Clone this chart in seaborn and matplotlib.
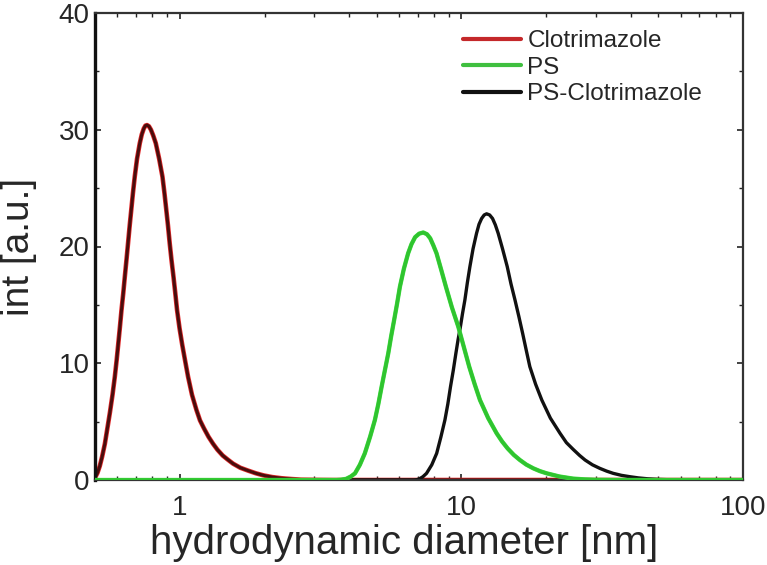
import numpy as np
import pandas as pd
import matplotlib
matplotlib.use("Agg")
import matplotlib.pyplot as plt
import matplotlib.patheffects as pe
from matplotlib.ticker import LogLocator, FixedLocator, NullFormatter
from matplotlib.lines import Line2D
import seaborn as sns

# ---- data ----
clotri_x = [0.500, 0.510, 0.520, 0.530, 0.542, 0.553, 0.565, 0.577, 0.588, 0.597, 0.605, 0.613,
            0.621, 0.630, 0.638, 0.647, 0.655, 0.664, 0.673, 0.682, 0.692, 0.705, 0.721, 0.733,
            0.745, 0.755, 0.765, 0.777, 0.790, 0.805, 0.822, 0.845, 0.868, 0.882, 0.895, 0.908,
            0.921, 0.935, 0.950, 0.964, 0.978, 0.998, 1.02, 1.045, 1.07, 1.105, 1.146, 1.18,
            1.22, 1.265, 1.313, 1.36, 1.42, 1.48, 1.546, 1.64, 1.75, 1.86, 1.98, 2.13,
            2.3, 2.5, 2.7, 3.1, 3.5, 100]
clotri_y = [0.2, 0.6, 1.2, 2.0, 3.1, 4.4, 5.8, 7.3, 8.85, 10.3, 11.7, 13.1,
            14.56, 16.0, 17.4, 18.9, 20.27, 21.8, 23.2, 24.6, 25.98, 27.5, 28.84, 29.6,
            30.1, 30.35, 30.4, 30.3, 30.0, 29.5, 28.84, 27.5, 25.98, 24.6, 23.2, 21.8,
            20.27, 18.8, 17.4, 16.0, 14.56, 13.0, 11.6, 10.2, 8.85, 7.3, 6.0, 5.1,
            4.4, 3.7, 3.1, 2.6, 2.1, 1.75, 1.4, 1.05, 0.8, 0.58, 0.4, 0.25,
            0.15, 0.08, 0.03, 0.01, 0.0, 0.0]

ps_x = [0.5, 3.6, 3.75, 3.9, 4.05, 4.19, 4.36, 4.54, 4.74, 4.93, 5.07, 5.21, 5.35, 5.50,
        5.63, 5.77, 5.91, 6.05, 6.25, 6.47, 6.65, 6.85, 7.08, 7.32, 7.55, 7.75, 7.95, 8.16,
        8.48, 8.81, 9.25, 9.75, 10.2, 10.66, 11.15, 11.64, 12.45, 13.34, 13.95, 14.6, 15.35,
        16.14, 17.0, 18.0, 19.0, 20.1, 22.3, 24.9, 27.5, 30, 35, 100]
ps_y = [0.0, 0.0, 0.03, 0.1, 0.3, 0.57, 1.3, 2.28, 3.7, 5.14, 6.5, 8.0, 9.4, 10.85,
        12.3, 13.7, 15.1, 16.56, 18.1, 19.42, 20.2, 20.8, 21.1, 21.2, 21.05, 20.7, 20.1, 19.42,
        18.0, 16.56, 14.8, 13.13, 11.4, 9.71, 8.2, 6.85, 5.3, 4.0, 3.3, 2.7, 2.15,
        1.71, 1.32, 1.0, 0.76, 0.57, 0.3, 0.12, 0.05, 0.02, 0.0, 0.0]

psc_x = [0.5, 6.8, 6.95, 7.1, 7.3, 7.52, 7.85, 8.17, 8.46, 8.74, 8.95, 9.15, 9.36, 9.56,
         9.73, 9.9, 10.1, 10.29, 10.5, 10.72, 11.0, 11.32, 11.55, 11.8, 12.05, 12.29, 12.6,
         12.9, 13.2, 13.51, 14.0, 14.55, 15.0, 15.5, 16.0, 16.5, 17.0, 17.5, 18.35, 19.3,
         20.7, 22.4, 23.6, 25, 26.3, 27.5, 29.2, 31, 32.8, 34.6, 37, 39.7, 42.5, 46, 50,
         55, 65, 100]
psc_y = [0.0, 0.0, 0.03, 0.1, 0.28, 0.57, 1.3, 2.28, 3.7, 5.14, 6.5, 8.0, 9.4, 10.85,
         12.0, 13.0, 14.3, 15.42, 16.9, 18.27, 19.8, 21.13, 21.9, 22.4, 22.7, 22.8, 22.7,
         22.4, 21.85, 21.13, 19.8, 18.27, 16.8, 15.42, 14.0, 12.56, 11.1, 9.71, 8.2, 6.85,
         5.3, 4.0, 3.2, 2.6, 2.1, 1.71, 1.3, 1.0, 0.76, 0.57, 0.4, 0.28, 0.18, 0.1, 0.05,
         0.02, 0.0, 0.0]

labels = ["Clotrimazole", "PS", "PS-Clotrimazole"]
x_ticks = [1, 10, 100]
x_tick_labels = ["1", "10", "100"]
y_ticks = [0, 10, 20, 30, 40]

# ---- style ----
sns.set_style("ticks")
plt.rcParams["font.family"] = ["Liberation Sans", "DejaVu Sans"]

fig = plt.figure(figsize=(7.67, 5.65), dpi=100)
ax = fig.add_axes([95 / 767, 85 / 565, 648 / 767, 467 / 565])

series = [
    (clotri_x, clotri_y, "#4a0d0d", 1),
    (psc_x, psc_y, "#111111", 2),
    (ps_x, ps_y, "#2fc42f", 3),
]
for xs, ys, col, z in series:
    df = pd.DataFrame({"x": xs, "y": ys})
    sns.lineplot(data=df, x="x", y="y", ax=ax, color=col, lw=2.2, sort=False,
                 estimator=None, zorder=z)

lines = ax.get_lines()
lines[0].set_path_effects([pe.Stroke(linewidth=3.3, foreground="#e02828"), pe.Normal()])
lines[1].set_linewidth(2.4)
lines[2].set_linewidth(2.5)
lines[2].set_path_effects([pe.Stroke(linewidth=3.1, foreground="#44dd44"), pe.Normal()])

ax.set_xscale("log")
ax.set_xlim(0.5, 100)
ax.set_ylim(0, 40)
ax.xaxis.set_major_locator(FixedLocator(x_ticks))
ax.set_xticklabels(x_tick_labels)
ax.xaxis.set_minor_locator(LogLocator(base=10, subs=np.arange(2, 10), numticks=20))
ax.xaxis.set_minor_formatter(NullFormatter())
ax.set_yticks(y_ticks)
ax.set_yticks([5, 15, 25, 35], minor=True)

ax.tick_params(which="both", direction="in", top=True, right=True, color="#222222")
ax.tick_params(which="major", length=4, width=1.2)
ax.tick_params(which="minor", length=3, width=1.0)
ax.tick_params(axis="x", which="major", labelsize=20, pad=11)
ax.tick_params(axis="y", which="major", labelsize=20, pad=4)

for side, sp in ax.spines.items():
    sp.set_color("#333333")
    sp.set_linewidth(1.6)
ax.spines["left"].set_linewidth(2.4)
ax.spines["left"].set_color("#111111")

ax.set_xlabel("hydrodynamic diameter [nm]", fontsize=29)
ax.set_ylabel("int [a.u.]", fontsize=28)
ax.xaxis.set_label_coords(0.477, -0.094)
ax.yaxis.set_label_coords(-0.089, 0.5)

handles = [Line2D([], [], color="#c4282a", lw=3),
           Line2D([], [], color="#3fbf3f", lw=3),
           Line2D([], [], color="#111111", lw=3)]
ax.legend(handles, labels, loc="upper left", bbox_to_anchor=(0.568, 0.963),
          frameon=False, fontsize=17.5, handlelength=2.4, handletextpad=0.25,
          borderpad=0, borderaxespad=0, labelspacing=0.18)

fig.savefig("out.png", dpi=100)
